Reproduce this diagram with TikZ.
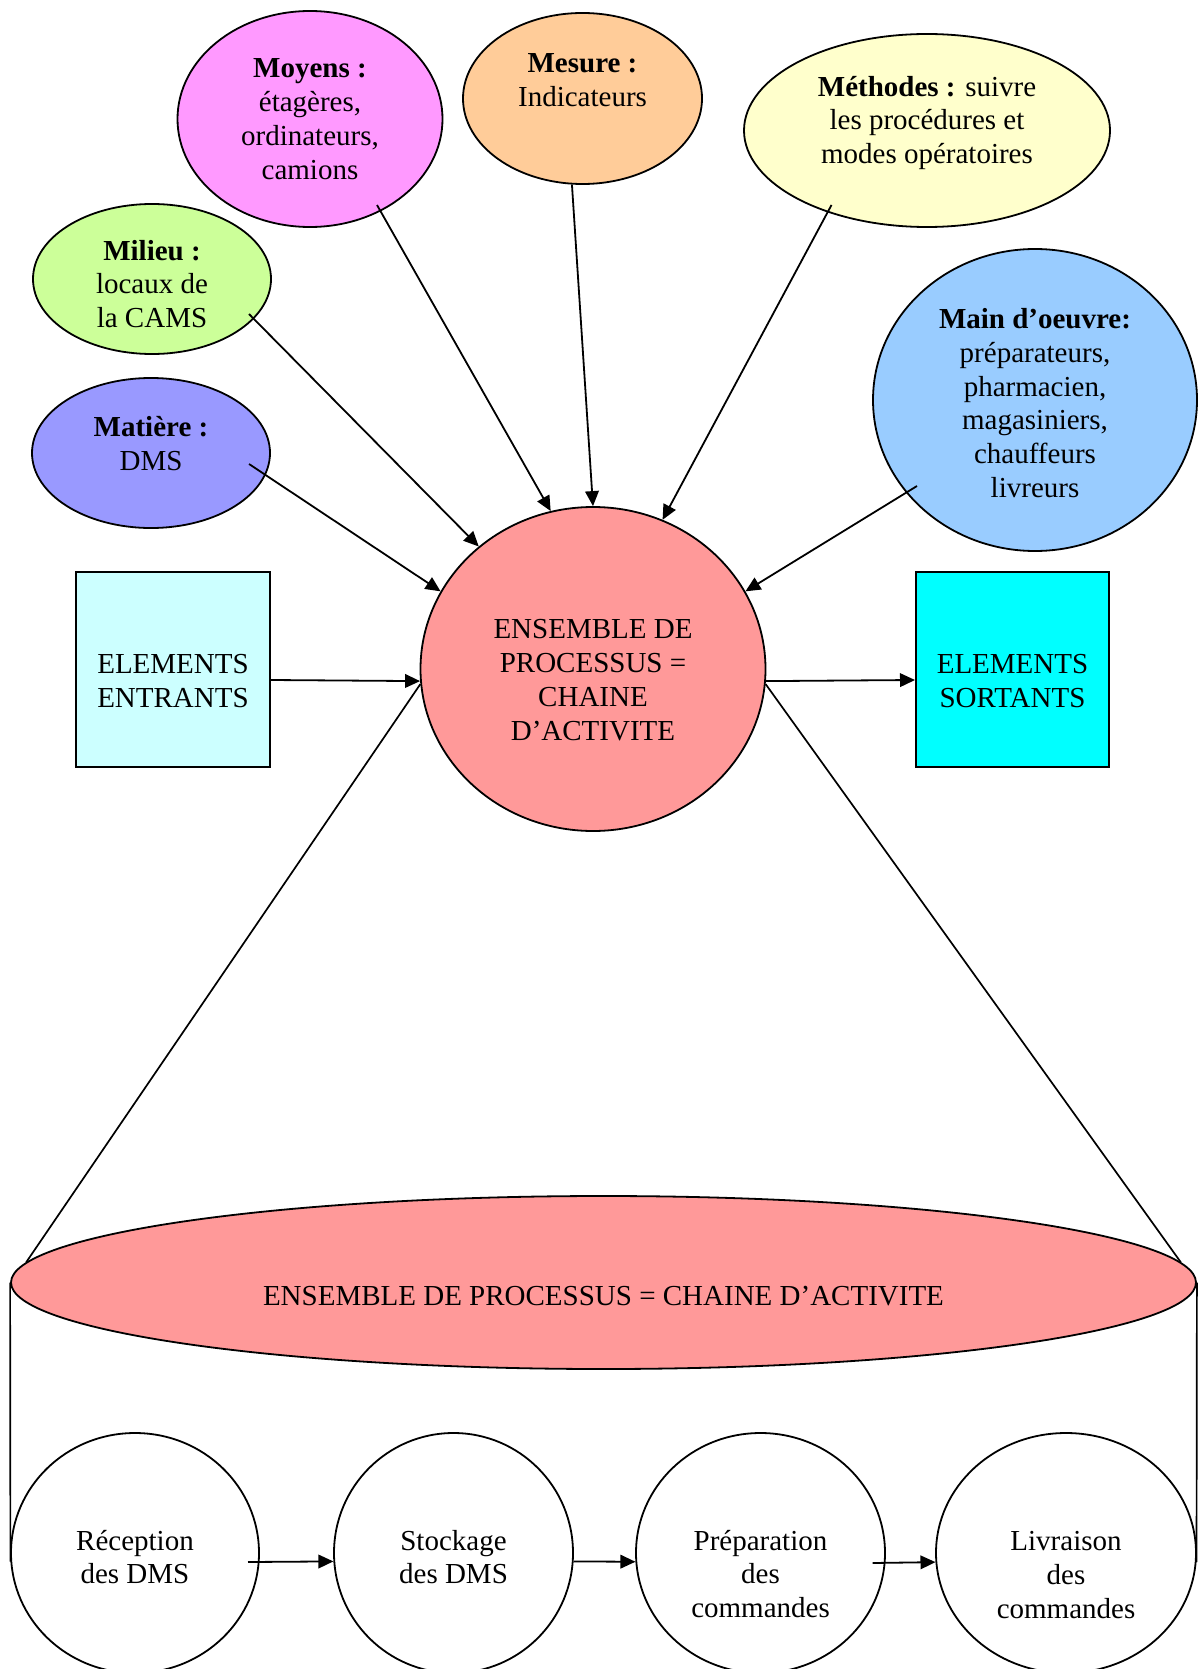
\documentclass[tikz,border=0pt]{standalone}
\usepackage{fontspec}
\setmainfont{Liberation Serif}
\usepackage{tikz}
\usetikzlibrary{shapes,arrows.meta}
\usetikzlibrary{scopes}
\usetikzlibrary{calc}
\definecolor{rose}{HTML}{FF99FF}
\definecolor{peche}{HTML}{FFCC99}
\definecolor{creme}{HTML}{FFFFCC}
\definecolor{vertclair}{HTML}{CCFF99}
\definecolor{lavande}{HTML}{9999FF}
\definecolor{bleuciel}{HTML}{99CCFF}
\definecolor{saumon}{HTML}{FF9999}
\definecolor{cyanpale}{HTML}{CCFFFF}
\definecolor{cyanvif}{HTML}{00FFFF}
\tikzset{bulle/.style={ellipse, draw=black, line width=0.9pt, inner sep=0pt},
  %default : cercle blanc de la chaine
  etape/.style={bulle, fill=white, minimum height=120pt},
  boite/.style={rectangle, draw=black, line width=1pt, inner sep=0pt, minimum height=97.5pt}}

\begin{document}
\begin{tikzpicture}
      [
      x=0.5pt, y=-0.5pt,
      txt/.style={align=center, font=\fontsize{14.5pt}{16.9pt}\selectfont},
      fleche/.style={-{Triangle[length=7.5pt,width=6.8pt]}, line width=0.9pt},
      trait/.style={line width=0.85pt},
      ]
      \useasboundingbox (0,0) rectangle (1200,1669);
      % les 6 M autour du processus
      \node[bulle, fill=rose, minimum width=132.5pt, minimum height=108pt] (moyens) at (310,119) {};
      \node[txt] (moyens-t) at ($(moyens)+(0,0)$) {\textbf{Moyens :}\\étagères,\\ordinateurs,\\camions};
      \node[bulle, fill=peche, minimum width=119.5pt, minimum height=85.5pt] (mesure) at (582.5,98.5) {};
      \node[txt] (mesure-t) at ($(mesure)+(0,-18)$) {\textbf{Mesure :}\\Indicateurs};
      \node[bulle, fill=creme, minimum width=183pt, minimum height=96.5pt] (methodes) at (927,130.5) {};
      \node[txt] (methodes-t) at ($(methodes)+(0,-7.5)$) {\textbf{Méthodes :} suivre\\les procédures et\\modes opératoires};
      \node[bulle, fill=vertclair, minimum width=119pt, minimum height=75pt] (milieu) at (152,279) {};
      \node[txt] (milieu-t) at ($(milieu)+(0,5)$) {\textbf{Milieu :}\\locaux de\\la CAMS};
      \node[bulle, fill=lavande, minimum width=119pt, minimum height=75pt] (matiere) at (151,453) {};
      \node[txt] (matiere-t) at ($(matiere)+(0,-9.5)$) {\textbf{Matière :}\\DMS};
      \node[bulle, fill=bleuciel, minimum width=162pt, minimum height=151pt] (mainoeuvre) at (1035,400) {};
      \node[txt] (mainoeuvre-t) at ($(mainoeuvre)+(0,3)$) {\textbf{Main d’oeuvre:}\\préparateurs,\\pharmacien,\\magasiniers,\\chauffeurs\\livreurs};

      % processus central, entrees et sorties
      \node[bulle, fill=saumon, minimum width=172.5pt, minimum height=162pt] (proc) at (593,669) {};
      \node[txt] (proc-t) at ($(proc)+(0,11)$) {ENSEMBLE DE\\PROCESSUS =\\CHAINE\\D’ACTIVITE};
      \node[boite, fill=cyanpale, minimum width=97pt] (entrants) at (173,669) {};
      \node[txt] (entrants-t) at ($(entrants)+(0,12)$) {ELEMENTS\\ENTRANTS};
      \node[boite, fill=cyanvif, minimum width=96.5pt] (sortants) at (1012.5,669) {};
      \node[txt] (sortants-t) at ($(sortants)+(0,12)$) {ELEMENTS\\SORTANTS};

      % chaine detaillee
      \node[bulle, fill=saumon, minimum width=592.5pt, minimum height=86.5pt] (chaine) at (603.5,1282.5) {};
      \node[txt] (chaine-t) at ($(chaine)+(0,13.5)$) {ENSEMBLE DE PROCESSUS = CHAINE D’ACTIVITE};
      \node[etape, minimum width=124pt] (reception) at (135,1553) {};
      \node[txt] (reception-t) at ($(reception)+(0,4)$) {Réception\\des DMS};
      \node[etape, minimum width=119.5pt] (stockage) at (453.5,1553) {};
      \node[txt] (stockage-t) at ($(stockage)+(0,4)$) {Stockage\\des DMS};
      \node[etape, minimum width=124.5pt] (preparation) at (760.5,1553) {};
      \node[txt] (preparation-t) at ($(preparation)+(0,21)$) {Préparation\\des\\commandes};
      \node[etape, minimum width=130pt] (livraison) at (1066,1553) {};
      \node[txt] (livraison-t) at ($(livraison)+(0,22)$) {Livraison\\des\\commandes};

      {[fleche]
        \draw ($(matiere)+(98,11)$) -- (proc.153);
        \draw ($(milieu)+(97,35)$) -- (proc.133);
        \draw ($(moyens)+(67,86)$) -- (proc.105);
        \draw (mesure.263) -- (proc.90);
        \draw ($(methodes)+(-95.5,74.5)$) -- (proc.65);
        \draw ($(mainoeuvre)+(-118,86)$) -- (proc.27);
        \draw ([yshift=-5.5pt]entrants.east) -- (proc.184);
        \draw (proc.-4) -- ([yshift=-5.5pt]sortants.west);
      }
      {[trait]
        \draw (proc.185) -- (chaine.178);
        \draw (proc.-5) -- (chaine.2);
        \draw (chaine.west) -- (reception.184);
        \draw (chaine.east) -- (livraison.-4);
      }
      {[fleche]
        \draw ($(reception)+(113,9)$) -- (stockage.184);
        \draw (stockage.-4) -- (preparation.184);
        \draw ($(preparation)+(112,10)$) -- (livraison.184);
      }
\end{tikzpicture}
\end{document}
